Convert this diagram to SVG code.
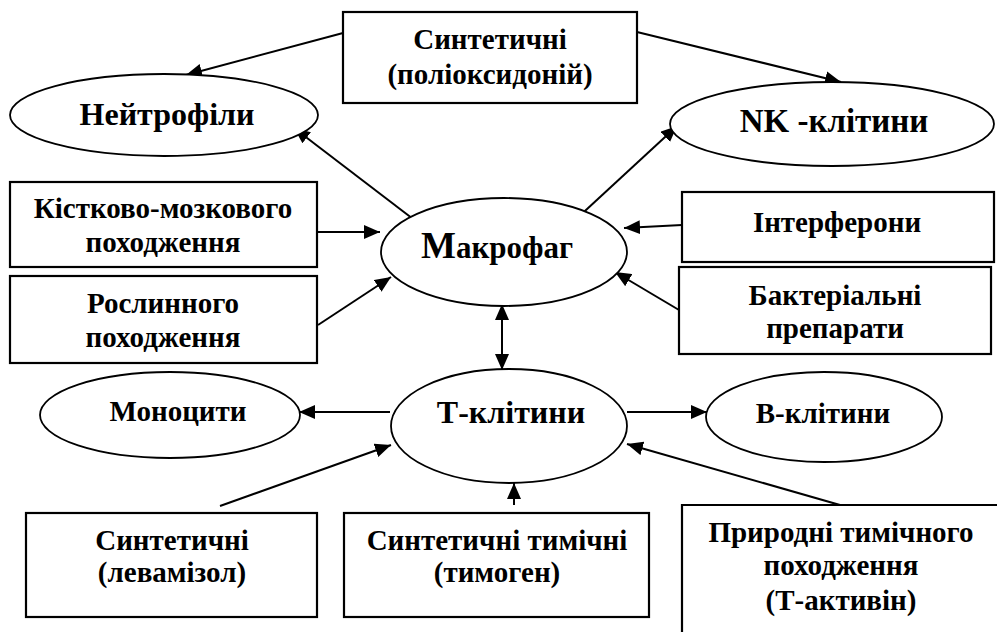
<svg xmlns="http://www.w3.org/2000/svg" width="997" height="632" viewBox="0 0 997 632">
<defs>
<marker id="ah" viewBox="0 0 16 14" refX="16" refY="7" markerWidth="16" markerHeight="14" markerUnits="userSpaceOnUse" orient="auto-start-reverse">
<path d="M0,0 L16,7 L0,14 z" fill="#000"/>
</marker>
</defs>
<style>
text{font-family:"Liberation Serif","Times New Roman",serif;font-weight:bold;fill:#000;text-anchor:middle}
.box{fill:#fff;stroke:#000;stroke-width:2.2}
.ell{fill:#fff;stroke:#000;stroke-width:1.8}
.c{fill:none;stroke:#000;stroke-width:2;marker-end:url(#ah)}
.b{font-size:29px}
.e{font-size:32px}
.s{font-size:29px}
</style>
<rect width="997" height="632" fill="#fff"/>
<g id="connectors">
<line class="c" x1="343" y1="33" x2="186" y2="75"/>
<line class="c" x1="637" y1="32" x2="841" y2="82"/>
<line class="c" x1="417" y1="222" x2="294" y2="128"/>
<line class="c" x1="573" y1="222" x2="677" y2="126"/>
<line class="c" x1="318" y1="232" x2="380" y2="232"/>
<line class="c" x1="318" y1="325" x2="391" y2="277"/>
<line class="c" x1="682" y1="225" x2="624" y2="228"/>
<line class="c" x1="679" y1="310" x2="615" y2="272"/>
<line class="c" x1="502" y1="337" x2="502" y2="304" />
<line class="c" x1="502" y1="337" x2="502" y2="370" />
<line class="c" x1="390" y1="412" x2="299" y2="412"/>
<line class="c" x1="627" y1="412" x2="707" y2="412"/>
<line class="c" x1="220" y1="506" x2="391" y2="445"/>
<line class="c" x1="514" y1="505" x2="514" y2="483"/>
<line class="c" x1="840" y1="505" x2="627" y2="444"/>
</g>
<g id="n-top">
<rect class="box" x="343" y="12" width="294" height="91"/>
<text class="b" x="490" y="49">Синтетичні</text>
<text class="b" x="490" y="84">(поліоксидоній)</text>
</g>
<g id="n-neut">
<ellipse class="ell" cx="164" cy="115" rx="154" ry="41"/>
<text class="e" x="167" y="125">Нейтрофіли</text>
</g>
<g id="n-nk">
<ellipse class="ell" cx="832" cy="124" rx="162" ry="42"/>
<text class="e" x="834" y="132" style="font-size:33px">NK -клітини</text>
</g>
<g id="n-bone">
<rect class="box" x="10" y="182" width="307" height="85"/>
<text class="b" x="163" y="218">Кістково-мозкового</text>
<text class="b" x="163" y="252">походження</text>
</g>
<g id="n-plant">
<rect class="box" x="10" y="276" width="307" height="87"/>
<text class="b" x="163" y="313">Рослинного</text>
<text class="b" x="163" y="347">походження</text>
</g>
<g id="n-macro">
<ellipse class="ell" cx="504" cy="252" rx="123" ry="54"/>
<text x="497" y="258" style="font-size:31px"><tspan style="font-size:37px">М</tspan>акрофаг</text>
</g>
<g id="n-ifn">
<rect class="box" x="682" y="192" width="312" height="70"/>
<text class="b" x="837" y="232">Інтерферони</text>
</g>
<g id="n-bact">
<rect class="box" x="679" y="267" width="312" height="87"/>
<text class="b" x="835" y="305">Бактеріальні</text>
<text class="b" x="835" y="338">препарати</text>
</g>
<g id="n-mono">
<ellipse class="ell" cx="170" cy="415" rx="130" ry="43"/>
<text class="s" x="178" y="421">Моноцити</text>
</g>
<g id="n-t">
<ellipse class="ell" cx="509" cy="426" rx="118" ry="57"/>
<text class="e" x="511" y="423">Т-клітини</text>
</g>
<g id="n-b">
<ellipse class="ell" cx="824" cy="417" rx="118" ry="45"/>
<text class="s" x="823" y="423">В-клітини</text>
</g>
<g id="n-lev">
<rect class="box" x="26" y="513" width="291" height="104"/>
<text class="b" x="172" y="550">Синтетичні</text>
<text class="b" x="172" y="582">(левамізол)</text>
</g>
<g id="n-thym">
<rect class="box" x="344" y="513" width="305" height="104"/>
<text class="b" x="497" y="550">Синтетичні тимічні</text>
<text class="b" x="497" y="582">(тимоген)</text>
</g>
<g id="n-nat">
<path class="box" d="M682,634 V505 H999"/>
<text class="b" x="841" y="542">Природні тимічного</text>
<text class="b" x="841" y="575">походження</text>
<text class="b" x="841" y="610">(Т-активін)</text>
</g>
</svg>
